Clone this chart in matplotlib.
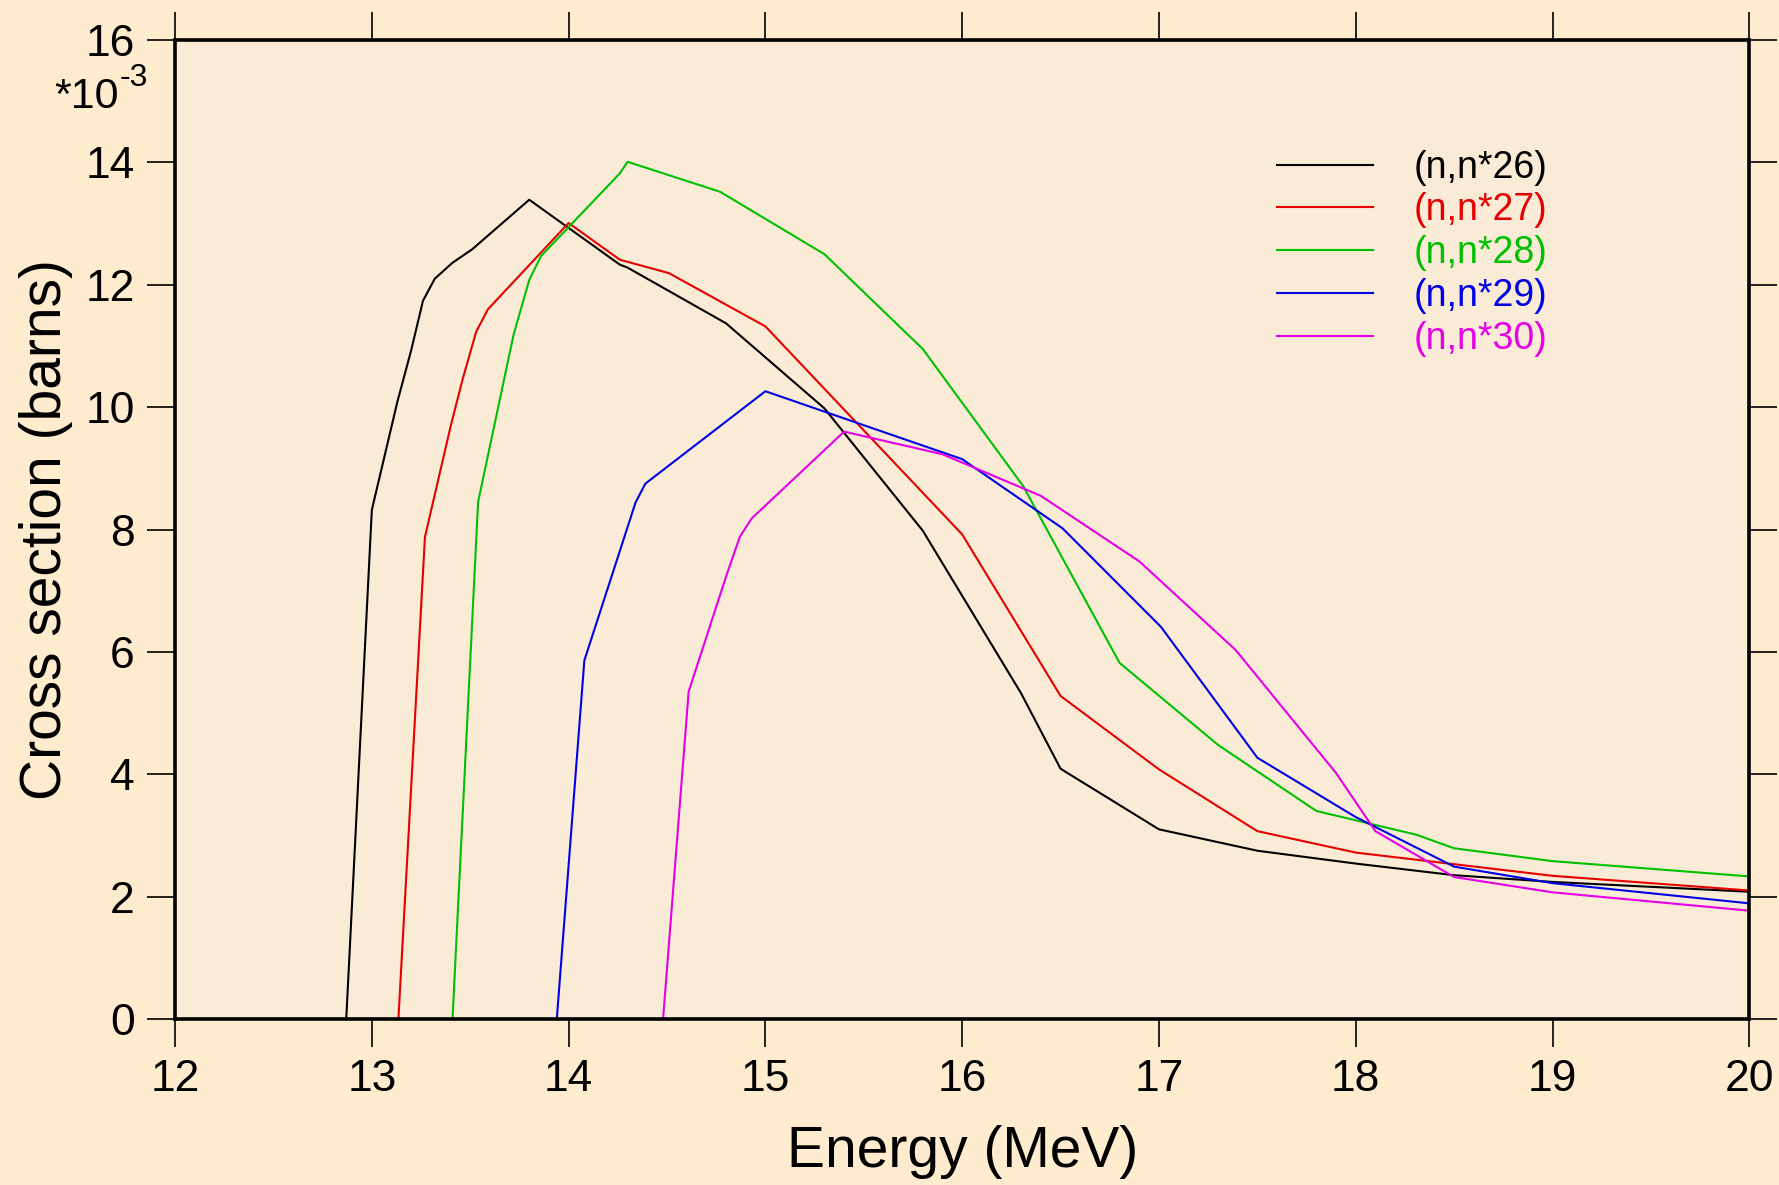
import numpy as np
import matplotlib.pyplot as plt

plt.rcParams['font.family'] = ['Liberation Sans', 'DejaVu Sans']

# cross sections in units of 1e-3 barns, energies in MeV
e26 = [12.87, 13.00, 13.13, 13.20, 13.26, 13.32, 13.41, 13.51, 13.80, 14.26, 14.30,
       14.80, 15.30, 15.80, 16.30, 16.50, 17.00, 17.50, 18.00, 18.50, 19.00, 20.00, 20.00]
xs26 = [0.0, 8.32, 10.09, 10.93, 11.74, 12.10, 12.36, 12.58, 13.39, 12.33, 12.28,
        11.37, 9.98, 7.98, 5.32, 4.09, 3.10, 2.75, 2.54, 2.35, 2.24, 2.08, 0.0]

e27 = [13.135, 13.27, 13.40, 13.46, 13.53, 13.59, 14.00, 14.26, 14.51, 15.00,
       16.00, 16.50, 17.00, 17.50, 18.00, 19.00, 20.00, 20.00]
xs27 = [0.0, 7.88, 9.68, 10.44, 11.23, 11.60, 13.01, 12.41, 12.19, 11.32,
        7.92, 5.28, 4.08, 3.07, 2.72, 2.34, 2.10, 0.0]

e28 = [13.41, 13.54, 13.72, 13.80, 13.86, 14.26, 14.30, 14.77, 15.30, 15.80,
       16.31, 16.80, 17.30, 17.80, 18.31, 18.50, 19.00, 20.00, 20.00]
xs28 = [0.0, 8.45, 11.18, 12.08, 12.47, 13.82, 14.01, 13.52, 12.50, 10.95,
        8.71, 5.82, 4.48, 3.40, 3.01, 2.79, 2.58, 2.33, 0.0]

e29 = [13.94, 14.08, 14.34, 14.39, 15.00, 16.00, 16.51, 17.01, 17.50, 18.00,
       18.50, 19.00, 20.00, 20.00]
xs29 = [0.0, 5.86, 8.44, 8.75, 10.26, 9.15, 8.02, 6.41, 4.27, 3.30,
        2.49, 2.22, 1.89, 0.0]

e30 = [14.48, 14.61, 14.80, 14.87, 14.93, 15.40, 15.90, 16.40, 16.90, 17.39,
       17.90, 18.10, 18.50, 19.00, 20.00, 20.00]
xs30 = [0.0, 5.35, 7.23, 7.88, 8.18, 9.60, 9.23, 8.55, 7.48, 6.03,
        4.02, 3.07, 2.32, 2.07, 1.77, 0.0]

labels = ['(n,n*26)', '(n,n*27)', '(n,n*28)', '(n,n*29)', '(n,n*30)']
colors = ['#000000', '#e60000', '#00c000', '#0000e6', '#e600e6']

fig = plt.figure(figsize=(17.79, 11.85), dpi=100, facecolor='#ffebcd')
ax = fig.add_axes([0.0984, 0.1401, 0.8849, 0.8261])
ax.set_facecolor('#faebd7')

series = [(e26, xs26), (e27, xs27), (e28, xs28), (e29, xs29), (e30, xs30)]
for (e, xs), lab, c in zip(series, labels, colors):
    ax.plot(e, xs, color=c, lw=1.5, label=lab)

ax.set_xlim(12, 20)
ax.set_ylim(0, 16)
ax.set_xticks(np.arange(12, 21, 1))
ax.set_yticks(np.arange(0, 17, 2))

for s in ax.spines.values():
    s.set_linewidth(2.6)
ax.tick_params(which='major', direction='out', length=20, width=1.2,
               labelsize=32, pad=9, top=True, right=True)

ax.set_xlabel('Energy (MeV)', fontsize=41, labelpad=18)
ax.set_ylabel('Cross section (barns)', fontsize=41, labelpad=9)

# scale factor written next to the top of the y axis
fig.text(119 / 1779, 1 - 97 / 1185, '*10', fontsize=31, ha='right', va='center')
fig.text(120 / 1779, 1 - 78 / 1185, '-3', fontsize=23, ha='left', va='center')

leg = ax.legend(loc='upper left', bbox_to_anchor=(0.700, 0.888), frameon=False,
                fontsize=27, handlelength=2.56, handletextpad=1.07,
                labelspacing=0.18, borderaxespad=0, borderpad=0,
                labelcolor='linecolor')

plt.savefig('out.png', dpi=100, facecolor=fig.get_facecolor())
